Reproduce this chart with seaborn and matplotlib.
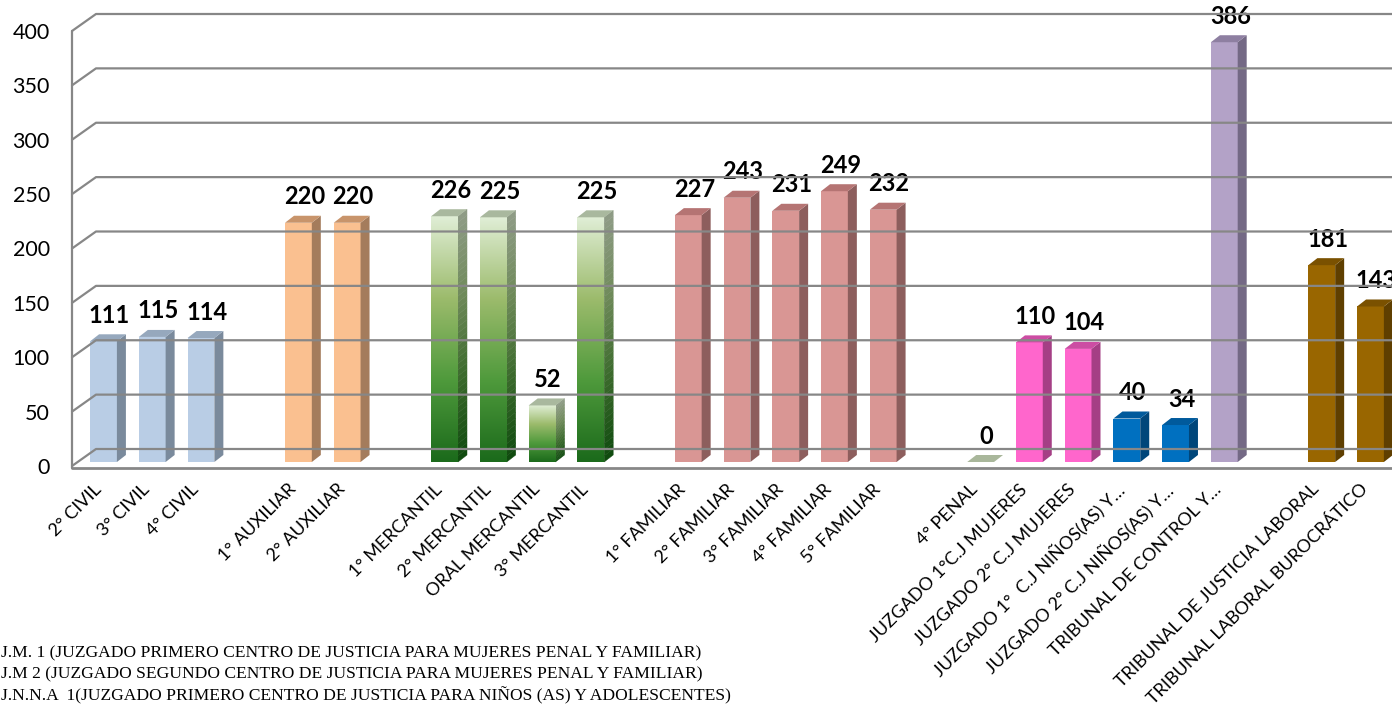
import numpy as np
import pandas as pd
import matplotlib
matplotlib.use("Agg")
import matplotlib.pyplot as plt
import seaborn as sns
from matplotlib import transforms as mtransforms
from matplotlib.patches import Polygon
from matplotlib.lines import Line2D
from matplotlib.colors import LinearSegmentedColormap

# ---------------- data ----------------
categories = ["2° CIVIL", "3° CIVIL", "4° CIVIL",
              "1° AUXILIAR", "2° AUXILIAR",
              "1° MERCANTIL", "2° MERCANTIL", "ORAL MERCANTIL", "3° MERCANTIL",
              "1° FAMILIAR", "2° FAMILIAR", "3° FAMILIAR", "4° FAMILIAR", "5° FAMILIAR",
              "4° PENAL",
              "JUZGADO 1°C.J MUJERES", "JUZGADO 2° C.J MUJERES",
              "JUZGADO 1°  C.J NIÑOS(AS) Y…", "JUZGADO 2° C.J NIÑOS(AS) Y…",
              "TRIBUNAL DE CONTROL Y…",
              "TRIBUNAL DE JUSTICIA LABORAL", "TRIBUNAL LABORAL BUROCRÁTICO"]
values = [111, 115, 114,
          220, 220,
          226, 225, 52, 225,
          227, 243, 231, 249, 232,
          0,
          110, 104,
          40, 34,
          386,
          181, 143]
groups = (["civil"] * 3 + ["auxiliar"] * 2 + ["mercantil"] * 4 + ["familiar"] * 5
          + ["penal"] + ["mujeres"] * 2 + ["ninos"] * 2 + ["control"] + ["laboral"] * 2)
gap_after = ["4° CIVIL", "2° AUXILIAR", "3° MERCANTIL", "5° FAMILIAR", "TRIBUNAL DE CONTROL Y…"]
yticks = [0, 50, 100, 150, 200, 250, 300, 350, 400]
footnotes = ["J.M. 1 (JUZGADO PRIMERO CENTRO DE JUSTICIA PARA MUJERES PENAL Y FAMILIAR)",
             "J.M 2 (JUZGADO SEGUNDO CENTRO DE JUSTICIA PARA MUJERES PENAL Y FAMILIAR)",
             "J.N.N.A  1(JUZGADO PRIMERO CENTRO DE JUSTICIA PARA NIÑOS (AS) Y ADOLESCENTES)"]

# colours: (front, side, top)
group_colors = {
    "civil": ("#b9cde5", "#7a8a9c", "#96a8bd"),
    "auxiliar": ("#fac090", "#a47c5c", "#c8946b"),
    "mercantil": ("#9cbb6c", "#55703a", "#a9b89e"),
    "familiar": ("#d99694", "#8d5e5d", "#b57473"),
    "penal": ("#a9b79b", "#8a9a80", "#a9b79b"),
    "mujeres": ("#ff66cc", "#a53f85", "#cc4da3"),
    "ninos": ("#0070c0", "#00467a", "#005a9c"),
    "control": ("#b3a2c7", "#746985", "#8e7fa1"),
    "laboral": ("#996600", "#5f3f00", "#7a5100"),
}

# ---------------- layout ----------------
order = []
k = 0
for c in categories:
    order.append(c)
    if c in gap_after:
        k += 1
        order.append(" " * k)

df = pd.DataFrame({"juzgado": categories, "valor": values, "grupo": groups})
cat_group = dict(zip(categories, groups))
cat_value = dict(zip(categories, values))
palette = {c: group_colors[g][0] for c, g in zip(categories, groups)}

sns.set_theme(style="white")
plt.rcParams["font.family"] = ["Lato", "DejaVu Sans"]

DPI = 100
fig = plt.figure(figsize=(13.92, 7.14), dpi=DPI)
ax = fig.add_axes([72 / 1392, 248 / 714, 1320 / 1392, 435 / 714])
ax.set_facecolor("none")

sns.barplot(data=df, x="juzgado", y="valor", order=order, hue="juzgado",
            palette=palette, width=0.55, saturation=1, legend=False, ax=ax, zorder=3)

step = 48.73
ax.set_xlim(-31.5 / step, (1392 - 103.5) / step)
ax.set_ylim(0, 400)
for s in ax.spines.values():
    s.set_visible(False)
ax.grid(False)
ax.set_xlabel("")
ax.set_ylabel("")

# ---------------- 3D frame (back wall grid, left wall, floor) ----------------
DX_WALL, DY_WALL = 24, 17
grid_color = "#878787"
ident = mtransforms.IdentityTransform()
x0_lim = ax.get_xlim()[0]
for v in yticks:
    fx, fy = ax.transData.transform((x0_lim, v))
    bx, by = fx + DX_WALL, fy + DY_WALL
    fig.add_artist(Line2D([fx, bx, 1392 + 40], [fy, by, by], transform=ident,
                          color=grid_color, lw=1.6, zorder=0.5))
fx0, fy0 = ax.transData.transform((x0_lim, 0))
fx4, fy4 = ax.transData.transform((x0_lim, 400))
fig.add_artist(Line2D([fx0, fx0], [fy0 - 2, fy4], transform=ident, color=grid_color, lw=1.6, zorder=0.5))
fig.add_artist(Line2D([fx0, 1392 + 10], [fy0 - 2, fy0 - 2], transform=ident, color=grid_color, lw=2.0, zorder=0.5))

# ---------------- 3D bars ----------------
BAR_UP = 4
DX, DY = 9, 7
bar_off = mtransforms.ScaledTranslation(0, BAR_UP / DPI, fig.dpi_scale_trans)
green_front = LinearSegmentedColormap.from_list("gf", ["#1b6a1b", "#4f9a3c", "#9cbb6c", "#e0eed6"])
green_side = LinearSegmentedColormap.from_list("gs", ["#0e4a0e", "#3b6a2c", "#6f8a5a", "#8f9c87"])

for p in list(ax.patches):
    xc = p.get_x() + p.get_width() / 2
    idx = int(round(xc))
    cat = order[idx]
    if cat not in cat_group:
        continue
    g = cat_group[cat]
    front, side, top = group_colors[g]
    p.set_transform(ax.transData + bar_off)
    p.set_edgecolor("none")
    x0 = p.get_x()
    x1 = x0 + p.get_width()
    h = p.get_height()
    if g == "mercantil":
        grad = np.linspace(0, 1, 256).reshape(-1, 1)
        im = ax.imshow(grad, extent=(x0, x1, 0, h), origin="lower", cmap=green_front,
                       aspect="auto", zorder=3.1, interpolation="bilinear")
        im.set_transform(ax.transData + bar_off)
    (ax0, ay0) = ax.transData.transform((x0, 0)) + np.array([0, BAR_UP])
    (ax1, ay1) = ax.transData.transform((x1, h)) + np.array([0, BAR_UP])
    # side face
    if h > 0:
        if g == "mercantil":
            n = 40
            for i in range(n):
                ya = ay0 + (ay1 - ay0) * i / n
                yb = ay0 + (ay1 - ay0) * (i + 1) / n
                poly = Polygon([[ax1, ya], [ax1, yb], [ax1 + DX, yb + DY], [ax1 + DX, ya + DY]],
                               closed=True, transform=ident, facecolor=green_side((i + 0.5) / n),
                               edgecolor=green_side((i + 0.5) / n), lw=0.3, zorder=3, clip_on=False)
                ax.add_patch(poly)
        else:
            ax.add_patch(Polygon([[ax1, ay0], [ax1, ay1], [ax1 + DX, ay1 + DY], [ax1 + DX, ay0 + DY]],
                                 closed=True, transform=ident, facecolor=side, edgecolor="none",
                                 zorder=3, clip_on=False))
    # top face
    ax.add_patch(Polygon([[ax0, ay1], [ax1, ay1], [ax1 + DX, ay1 + DY], [ax0 + DX, ay1 + DY]],
                         closed=True, transform=ident, facecolor=top, edgecolor="none",
                         zorder=3.2, clip_on=False))
    # value label
    ax.annotate(f"{cat_value[cat]}", xy=(xc, h), xycoords=("data", "data"),
                xytext=(6, BAR_UP + 26), textcoords="offset pixels",
                ha="center", va="center", fontsize=17, fontweight="bold",
                color="black", zorder=5, annotation_clip=False)

# ---------------- ticks ----------------
ax.set_yticks(yticks)
ax.set_yticklabels([str(v) for v in yticks])
ax.tick_params(axis="y", length=0, pad=16, labelsize=15.5, labelcolor="black")
ax.set_xticks(range(len(order)))
ax.set_xticklabels([c if c in cat_group else "" for c in order])
ax.tick_params(axis="x", length=0, pad=15, labelsize=13, labelcolor="black")
shift = mtransforms.ScaledTranslation(-5 / DPI, 0, fig.dpi_scale_trans)
for lab in ax.get_xticklabels():
    lab.set_rotation(45)
    lab.set_ha("right")
    lab.set_va("center")
    lab.set_rotation_mode("anchor")
    lab.set_transform(lab.get_transform() + shift)

# ---------------- footnotes ----------------
for i, t in enumerate(footnotes):
    fig.text(1 / 1392, 1 - (653 + 21.5 * i) / 714, t, ha="left", va="center",
             fontsize=12.6, family=["Liberation Serif", "DejaVu Serif"], color="black")

fig.savefig("out.png", dpi=DPI)
